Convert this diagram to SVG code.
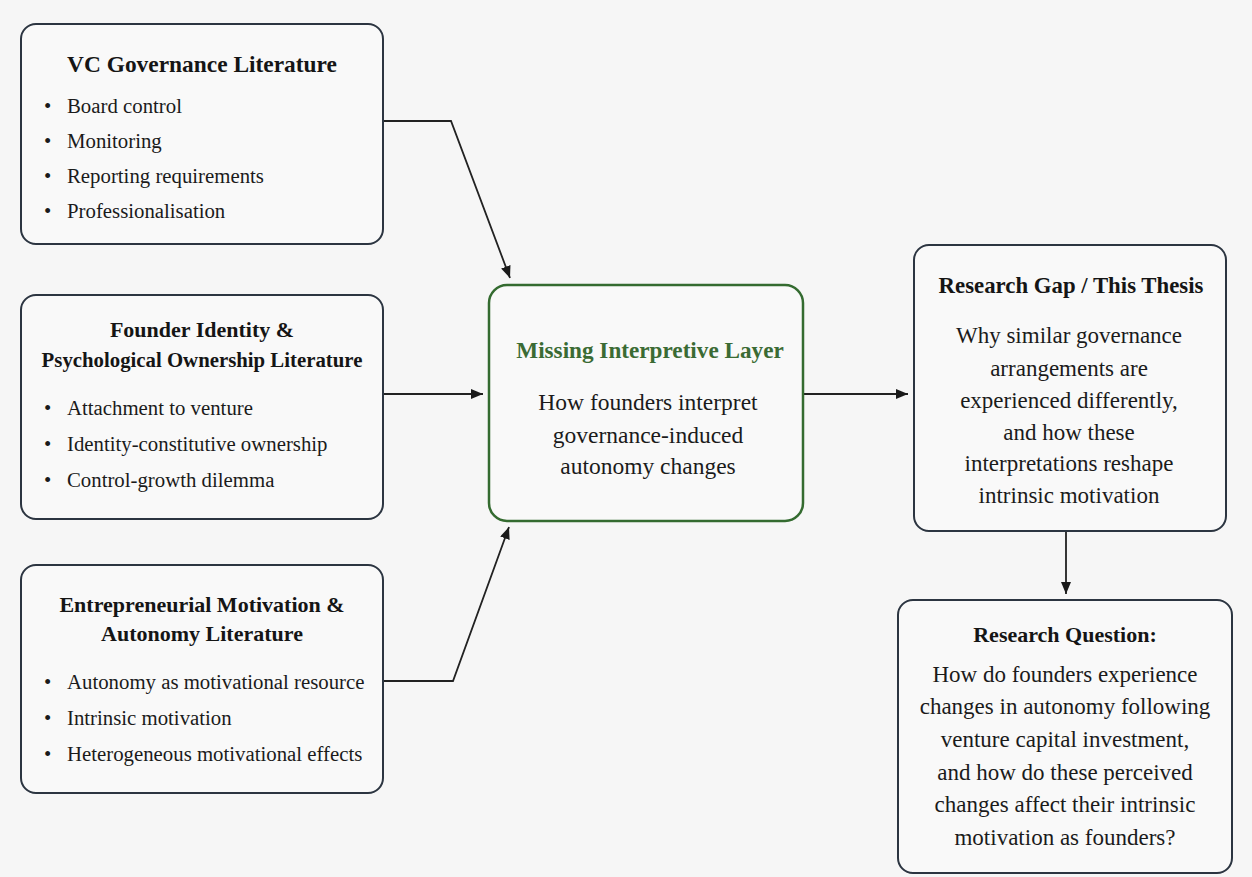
<svg xmlns="http://www.w3.org/2000/svg" width="1252" height="877" viewBox="0 0 1252 877">
  <style>
    .box { fill: #f9f9f9; stroke: #2c3541; stroke-width: 2; }
    .core { fill: #f9f9f9; stroke: #346b30; stroke-width: 2.5; }
    .title { font-family: "Liberation Serif", "Times New Roman", serif; font-weight: bold; font-size: 22px; fill: #151515; }
    .core-title { font-family: "Liberation Serif", "Times New Roman", serif; font-weight: bold; font-size: 23.2px; fill: #3b6b34; }
    .body { font-family: "Liberation Serif", "Times New Roman", serif; font-size: 20.8px; fill: #1b1b1b; }
    .big { font-size: 23px; }
    .mid { text-anchor: middle; }
    .link { fill: none; stroke: #222; stroke-width: 1.8; }
  </style>
  <defs>
    <marker id="arrow" viewBox="0 0 12 10" refX="12" refY="5" markerWidth="12" markerHeight="10" markerUnits="userSpaceOnUse" orient="auto">
      <path d="M0,0 L12,5 L0,10 Z" fill="#1a1a1a"/>
    </marker>
  </defs>

  <rect width="1252" height="877" fill="#f6f6f6"/>

  <!-- connectors -->
  <g id="connectors">
    <path class="link" d="M383,121 L451,121 L510,278" marker-end="url(#arrow)"/>
    <path class="link" d="M383,394 L483,394" marker-end="url(#arrow)"/>
    <path class="link" d="M383,681 L453,681 L509,527" marker-end="url(#arrow)"/>
    <path class="link" d="M803,394 L908,394" marker-end="url(#arrow)"/>
    <path class="link" d="M1066,531 L1066,594" marker-end="url(#arrow)"/>
  </g>

  <!-- literature stream 1 -->
  <g id="vc-governance">
    <rect class="box" x="21" y="24" width="362" height="220" rx="15"/>
    <text class="title mid" x="202" y="72" style="font-size:23.4px">VC Governance Literature</text>
    <text class="body" x="44" y="113">•</text><text class="body" x="67" y="113">Board control</text>
    <text class="body" x="44" y="148">•</text><text class="body" x="67" y="148">Monitoring</text>
    <text class="body" x="44" y="183">•</text><text class="body" x="67" y="183">Reporting requirements</text>
    <text class="body" x="44" y="218">•</text><text class="body" x="67" y="218">Professionalisation</text>
  </g>

  <!-- literature stream 2 -->
  <g id="founder-identity">
    <rect class="box" x="21" y="295" width="362" height="224" rx="15"/>
    <text class="title mid" x="202" y="337">Founder Identity &amp;</text>
    <text class="title mid" x="202" y="367" style="font-size:20.8px">Psychological Ownership Literature</text>
    <text class="body" x="44" y="415">•</text><text class="body" x="67" y="415">Attachment to venture</text>
    <text class="body" x="44" y="451">•</text><text class="body" x="67" y="451">Identity-constitutive ownership</text>
    <text class="body" x="44" y="487">•</text><text class="body" x="67" y="487">Control-growth dilemma</text>
  </g>

  <!-- literature stream 3 -->
  <g id="motivation-autonomy">
    <rect class="box" x="21" y="565" width="362" height="228" rx="15"/>
    <text class="title mid" x="202" y="612">Entrepreneurial Motivation &amp;</text>
    <text class="title mid" x="202" y="641">Autonomy Literature</text>
    <text class="body" x="44" y="689">•</text><text class="body" x="67" y="689">Autonomy as motivational resource</text>
    <text class="body" x="44" y="725">•</text><text class="body" x="67" y="725">Intrinsic motivation</text>
    <text class="body" x="44" y="761">•</text><text class="body" x="67" y="761">Heterogeneous motivational effects</text>
  </g>

  <!-- central synthesis -->
  <g id="interpretive-layer">
    <rect class="core" x="489" y="285" width="314" height="236" rx="18"/>
    <text class="core-title mid" x="650" y="358">Missing Interpretive Layer</text>
    <text class="body big mid" x="648" y="410" style="font-size:23.5px">How founders interpret</text>
    <text class="body big mid" x="648" y="443" style="font-size:23.5px">governance-induced</text>
    <text class="body big mid" x="648" y="474" style="font-size:23.5px">autonomy changes</text>
  </g>

  <!-- gap -->
  <g id="research-gap">
    <rect class="box" x="914" y="245" width="312" height="286" rx="15"/>
    <text class="title mid" x="1071" y="293" style="font-size:22.8px">Research Gap / This Thesis</text>
    <text class="body big mid" x="1069" y="343">Why similar governance</text>
    <text class="body big mid" x="1069" y="376">arrangements are</text>
    <text class="body big mid" x="1069" y="408">experienced differently,</text>
    <text class="body big mid" x="1069" y="440">and how these</text>
    <text class="body big mid" x="1069" y="471">interpretations reshape</text>
    <text class="body big mid" x="1069" y="503">intrinsic motivation</text>
  </g>

  <!-- question -->
  <g id="research-question">
    <rect class="box" x="898" y="600" width="334" height="273" rx="15"/>
    <text class="title mid" x="1065" y="642">Research Question:</text>
    <text class="body big mid" x="1065" y="682">How do founders experience</text>
    <text class="body big mid" x="1065" y="714">changes in autonomy following</text>
    <text class="body big mid" x="1065" y="747">venture capital investment,</text>
    <text class="body big mid" x="1065" y="780">and how do these perceived</text>
    <text class="body big mid" x="1065" y="812">changes affect their intrinsic</text>
    <text class="body big mid" x="1065" y="845">motivation as founders?</text>
  </g>
</svg>
